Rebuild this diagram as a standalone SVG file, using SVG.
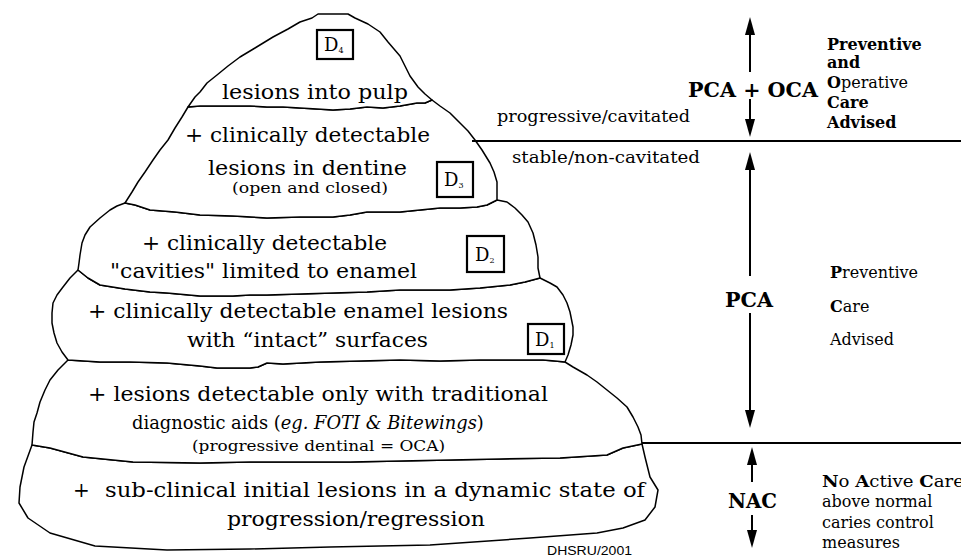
<svg xmlns="http://www.w3.org/2000/svg" width="961" height="557" viewBox="0 0 961 557">
<style>
.bg{fill:#fff}
.tier{fill:#fff;stroke:#000;stroke-width:1.5;stroke-linejoin:round}
.dbox{fill:#fff;stroke:#000;stroke-width:2.2}
.t{font-family:"DejaVu Serif","Liberation Serif",serif;font-size:20px;fill:#000}
.s{font-size:15px}
.xs{font-size:14px}
.n19{font-size:19px}
.it{font-style:italic}
.r{font-size:16px}
.m{font-size:16px}
.b{font-weight:bold}
.d{font-family:"DejaVu Serif","Liberation Serif",serif;font-size:18px;fill:#000}
.sub{font-size:8px}
.sans{font-family:"Liberation Sans",Arial,sans-serif;font-size:12px;fill:#000}
.ln{stroke:#000;stroke-width:2;fill:none}
.ar{stroke:#000;stroke-width:2;fill:none;marker-end:url(#ah)}
</style>
<defs>
<marker id="ah" markerWidth="18" markerHeight="10" refX="0" refY="5" orient="auto" markerUnits="userSpaceOnUse">
<path d="M0,0 L18,5 L0,10 z" fill="#000"/>
</marker>
</defs>
<rect class="bg" x="0" y="0" width="961" height="557"/>

<g id="tier-subclinical">
<path class="tier" d="M32,445 L50,448 L83,457 L133,462 L200,463 L250,462 L300,462 L350,462 L400,461 L450,460 L500,459 L560,458 L607,455 L623,448 L642,444 L645,457 L650,477 L658,490 L655,507 L645,520 L623,528 L597,533 L530,538 L430,545 L330,547 L250,549 L167,550 L95,546 L50,533 L28,518 L19,503 L20,487 L24,467 Z"/>
<text class="t" x="73" y="497">+</text>
<text class="t" x="105" y="497" textLength="540" lengthAdjust="spacingAndGlyphs">sub-clinical initial lesions in a dynamic state of</text>
<text class="t" x="227" y="526" textLength="258" lengthAdjust="spacingAndGlyphs">progression/regression</text>
</g>

<g id="tier-traditional">
<path class="tier" d="M68,360 L58,370 L50,380 L45,390 L40,402 L37,413 L34,422 L33,432 L32,445 L50,448 L83,457 L133,462 L200,463 L250,462 L300,462 L350,462 L400,461 L450,460 L500,459 L560,458 L607,455 L623,448 L642,444 L641,435 L638,427 L633,417 L627,407 L617,398 L607,390 L597,382 L587,375 L573,367 L565,362 L555,361 L543,360 L520,360 L480,360 L440,361 L400,360 L360,361 L320,362 L283,364 L267,363 L258,367 L250,368 L217,368 L200,366 L167,363 L130,362 L100,362 Z"/>
<text class="t" x="88" y="401" textLength="460" lengthAdjust="spacingAndGlyphs">+ lesions detectable only with traditional</text>
<text class="t n19" transform="translate(132,429) scale(0.94,1)" x="0" y="0">diagnostic aids (<tspan class="it">eg. FOTI &amp; Bitewings</tspan>)</text>
<text class="t xs" x="192" y="451" textLength="253" lengthAdjust="spacingAndGlyphs">(progressive dentinal = OCA)</text>
</g>

<g id="tier-enamel-lesions">
<path class="tier" d="M78,270 L70,278 L63,287 L57,295 L53,303 L52,313 L52,323 L54,333 L57,343 L62,352 L68,360 L100,362 L130,362 L167,363 L200,366 L217,368 L250,368 L258,367 L267,363 L283,364 L320,362 L360,361 L400,360 L440,361 L480,360 L520,360 L543,360 L555,361 L565,362 L568,355 L571,345 L573,335 L573,327 L570,312 L567,303 L563,295 L557,287 L550,283 L540,278 L525,282 L510,285 L480,288 L450,290 L420,290 L400,290 L367,292 L333,293 L300,294 L267,295 L250,295 L233,296 L200,296 L167,293 L150,292 L125,289 L100,285 L88,278 Z"/>
<text class="t" x="88" y="318" textLength="420" lengthAdjust="spacingAndGlyphs">+ clinically detectable enamel lesions</text>
<text class="t" x="187" y="347" textLength="241" lengthAdjust="spacingAndGlyphs">with “intact” surfaces</text>
<rect class="dbox" x="528" y="324" width="36" height="30"/>
<text class="d" x="535" y="346">D<tspan class="sub" dy="2">1</tspan></text>
</g>

<g id="tier-cavities">
<path class="tier" d="M125,203 L117,206 L110,210 L100,218 L90,227 L85,235 L82,243 L80,255 L79,263 L78,270 L88,278 L100,285 L125,289 L150,292 L167,293 L200,296 L233,296 L250,295 L267,295 L300,294 L333,293 L367,292 L400,290 L420,290 L450,290 L480,288 L510,285 L525,282 L540,278 L538,268 L538,257 L536,245 L533,233 L528,222 L522,215 L515,208 L507,202 L497,200 L487,205 L477,207 L460,208 L440,208 L420,210 L400,212 L380,212 L367,212 L350,215 L333,217 L300,217 L267,218 L233,216 L200,215 L175,212 L150,210 L135,205 Z"/>
<text class="t" x="142" y="250" textLength="245" lengthAdjust="spacingAndGlyphs">+ clinically detectable</text>
<text class="t" x="110" y="278" textLength="307" lengthAdjust="spacingAndGlyphs">"cavities" limited to enamel</text>
<rect class="dbox" x="467" y="236" width="37" height="36"/>
<text class="d" x="475" y="261">D<tspan class="sub" dy="2">2</tspan></text>
</g>

<g id="tier-dentine">
<path class="tier" d="M188,107 L182,117 L175,128 L168,140 L160,150 L153,160 L145,172 L138,182 L132,192 L125,203 L135,205 L150,210 L175,212 L200,215 L233,216 L267,218 L300,217 L333,217 L350,215 L367,212 L380,212 L400,212 L420,210 L440,208 L460,208 L477,207 L487,205 L497,200 L497,192 L497,182 L494,172 L490,163 L482,150 L475,140 L468,131 L460,123 L450,113 L440,106 L432,100 L425,103 L417,103 L400,106 L383,108 L367,107 L350,109 L333,110 L317,109 L300,108 L283,107 L267,107 L250,106 L233,106 L215,106 L200,106 Z"/>
<text class="t" x="185" y="142" textLength="245" lengthAdjust="spacingAndGlyphs">+ clinically detectable</text>
<text class="t" x="208" y="175" textLength="199" lengthAdjust="spacingAndGlyphs">lesions in dentine</text>
<text class="t s" x="232" y="193" textLength="156" lengthAdjust="spacingAndGlyphs">(open and closed)</text>
<rect class="dbox" x="437" y="162" width="36" height="35"/>
<text class="d" x="444" y="186">D<tspan class="sub" dy="2">3</tspan></text>
</g>

<g id="tier-pulp">
<path class="tier" d="M188,107 L195,97 L200,92 L207,83 L217,75 L228,66 L240,57 L255,48 L273,37 L288,29 L300,22 L312,18 L318,14 L348,14 L355,18 L368,24 L380,32 L388,42 L400,56 L405,66 L410,76 L418,87 L425,94 L432,100 L425,103 L417,103 L400,106 L383,108 L367,107 L350,109 L333,110 L317,109 L300,108 L283,107 L267,107 L250,106 L233,106 L215,106 L200,106 Z"/>
<text class="t" x="222" y="99" textLength="186" lengthAdjust="spacingAndGlyphs">lesions into pulp</text>
<rect class="dbox" x="317" y="30" width="36" height="29"/>
<text class="d" x="324" y="51">D<tspan class="sub" dy="2">4</tspan></text>
</g>

<g id="connectors">
<line class="ln" x1="472" y1="141" x2="961" y2="141"/>
<line class="ln" x1="642" y1="443" x2="961" y2="443" stroke-width="4"/>
<line class="ar" x1="750" y1="72" x2="750" y2="35"/>
<line class="ar" x1="750" y1="99" x2="750" y2="119"/>
<line class="ar" x1="750" y1="276" x2="750" y2="170"/>
<line class="ar" x1="750" y1="313" x2="750" y2="410"/>
<line class="ar" x1="752" y1="482" x2="752" y2="465"/>
<line class="ar" x1="752" y1="515" x2="752" y2="530"/>
</g>

<g id="label-pca-oca">
<text class="t b" x="688" y="97" textLength="130" lengthAdjust="spacingAndGlyphs">PCA + OCA</text>
<text class="t r" x="827" y="50"><tspan class="b">Preventive</tspan></text>
<text class="t r b" x="827" y="68">and</text>
<text class="t r" x="827" y="88"><tspan class="b">O</tspan>perative</text>
<text class="t r b" x="827" y="108">Care</text>
<text class="t r b" x="827" y="128">Advised</text>
<text class="t m" x="497" y="122" textLength="193" lengthAdjust="spacingAndGlyphs">progressive/cavitated</text>
<text class="t m" x="512" y="163" textLength="188" lengthAdjust="spacingAndGlyphs">stable/non-cavitated</text>
</g>

<g id="label-pca">
<text class="t b" x="725" y="307" textLength="48" lengthAdjust="spacingAndGlyphs">PCA</text>
<text class="t r" x="830" y="278"><tspan class="b">P</tspan>reventive</text>
<text class="t r" x="830" y="312"><tspan class="b">C</tspan>are</text>
<text class="t r" x="830" y="345">Advised</text>
</g>

<g id="label-nac">
<text class="t b" x="728" y="508" textLength="49" lengthAdjust="spacingAndGlyphs">NAC</text>
<text class="t r" x="822" y="487" textLength="142" lengthAdjust="spacingAndGlyphs"><tspan class="b">N</tspan>o <tspan class="b">A</tspan>ctive <tspan class="b">C</tspan>are</text>
<text class="t r" x="822" y="507">above normal</text>
<text class="t r" x="822" y="528">caries control</text>
<text class="t r" x="822" y="548">measures</text>
</g>

<text class="sans" x="547" y="555" textLength="85" lengthAdjust="spacingAndGlyphs">DHSRU/2001</text>
</svg>
